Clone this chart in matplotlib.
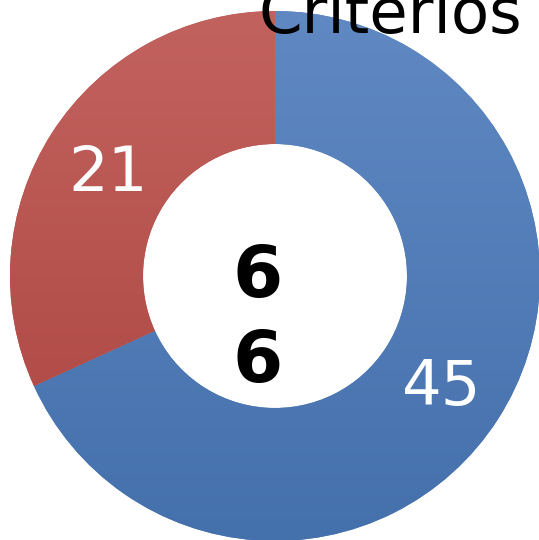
import matplotlib
matplotlib.use("Agg")
import matplotlib.pyplot as plt
import numpy as np
from matplotlib.colors import LinearSegmentedColormap

# Data
categories = ["A", "B"]
values = [45, 21]
labels = ["45", "21"]
center_text = "6\n6"
title = "Criterios"

W, H = 539, 540
fig = plt.figure(figsize=(W / 100, H / 100), dpi=100)
ax = fig.add_axes([0, 0, 1, 1])

cx, cy = 275, H - 276
R = 265
width = 133

wedges, _ = ax.pie(values, startangle=90, counterclock=False, center=(cx, cy),
                   radius=R, wedgeprops=dict(width=width, linewidth=0),
                   colors=["#5580BA", "#B65450"])

grads = [("#6089C3", "#4470AB"), ("#C2625E", "#AB4440")]
for w, (top, bot) in zip(wedges, grads):
    cmap = LinearSegmentedColormap.from_list("g", [bot, top])
    grad = np.linspace(0, 1, 256).reshape(-1, 1)
    im = ax.imshow(grad, cmap=cmap, origin="lower", aspect="auto",
                   extent=(cx - R, cx + R, cy - R, cy + R), zorder=w.get_zorder() + 0.1)
    im.set_clip_path(w)

# labels
rl = R - width / 2
ang = 90
for v, lab in zip(values, labels):
    theta = ang - v / sum(values) * 360 / 2
    ang -= v / sum(values) * 360
    x = cx + rl * np.cos(np.radians(theta))
    y = cy + rl * np.sin(np.radians(theta)) - 5
    ax.text(x, y, lab, color="white", fontsize=45, ha="center", va="center", zorder=5)

ax.text(258, H - 320, center_text, fontsize=52, fontweight="bold", ha="center",
        va="center", linespacing=1.3, zorder=5)
ax.text(258, H - 33, title, fontsize=45, ha="left", va="baseline", zorder=6)

ax.set_xlim(0, W)
ax.set_ylim(0, H)
ax.set_aspect("auto")
ax.axis("off")
fig.savefig("out.png", dpi=100)
